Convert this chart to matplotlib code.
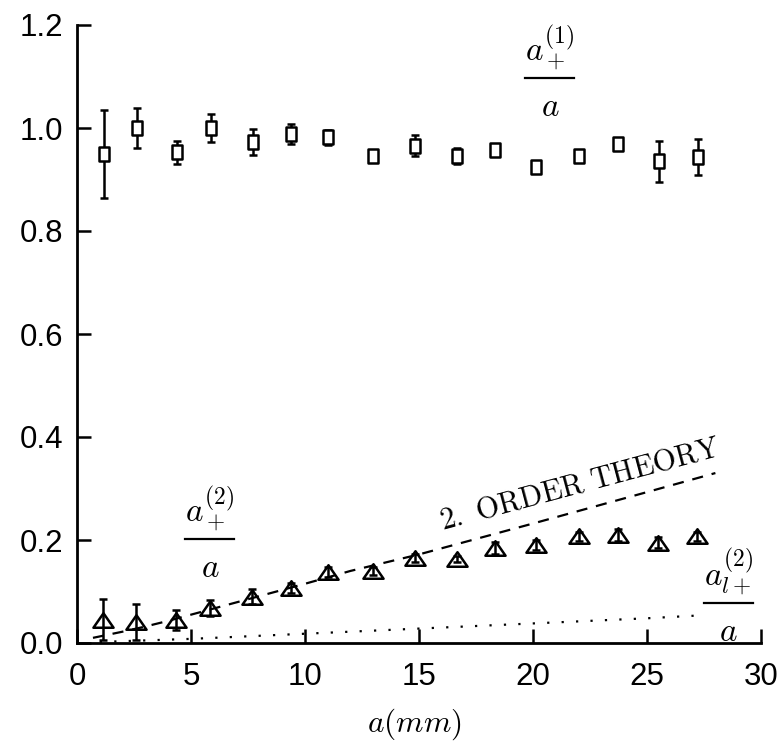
import matplotlib
matplotlib.use("Agg")
import matplotlib.pyplot as plt
import matplotlib.transforms as mtransforms
from matplotlib.lines import Line2D
from matplotlib.path import Path

plt.rcParams['mathtext.fontset'] = 'cm'
plt.rcParams['font.family'] = ['Liberation Sans', 'DejaVu Sans']

# first-order amplitude ratio (squares)
x_first = [1.20, 2.65, 4.38, 5.86, 7.70, 9.40, 11.02, 13.00, 14.84, 16.68, 18.33, 20.12, 22.02, 23.72, 25.52, 27.22]
y_first = [0.950, 1.000, 0.953, 1.000, 0.973, 0.988, 0.982, 0.945, 0.966, 0.946, 0.957, 0.925, 0.945, 0.968, 0.935, 0.943]
e_first = [0.085, 0.038, 0.022, 0.027, 0.025, 0.020, 0.015, 0.010, 0.020, 0.015, 0.012, 0.010, 0.010, 0.010, 0.040, 0.035]

# second-order amplitude ratio (triangles)
x_second = [1.15, 2.60, 4.35, 5.85, 7.68, 9.40, 11.02, 12.98, 14.82, 16.67, 18.33, 20.12, 22.00, 23.72, 25.50, 27.20]
y_second = [0.045, 0.040, 0.045, 0.068, 0.090, 0.107, 0.138, 0.140, 0.165, 0.163, 0.185, 0.190, 0.207, 0.210, 0.195, 0.207]
e_second = [0.040, 0.035, 0.020, 0.015, 0.015, 0.010, 0.010, 0.008, 0.008, 0.005, 0.012, 0.010, 0.008, 0.012, 0.010, 0.008]

# second-order theory curve (dashed)
x_theory = [0.7, 2.0, 3.0, 4.0, 5.0, 6.0, 8.0, 10.0, 12.0, 15.0, 20.0, 25.0, 28.0]
y_theory = [0.010, 0.022, 0.032, 0.043, 0.055, 0.067, 0.091, 0.115, 0.140, 0.172, 0.232, 0.293, 0.330]

# bound second-order component (dotted)
x_bound = [1.0, 5.0, 10.0, 15.0, 20.0, 25.0, 27.5]
y_bound = [0.002, 0.008, 0.018, 0.028, 0.038, 0.048, 0.054]

fig = plt.figure(figsize=(7.84, 7.49), dpi=100)
ax = fig.add_axes([77/784, 1 - 643/749, (761 - 77)/784, (643 - 25)/749])

# open markers: slightly tall square, wide flat triangle
sq_marker = Path([(-0.78, -1), (0.78, -1), (0.78, 1), (-0.78, 1), (-0.78, -1)],
                 [Path.MOVETO, Path.LINETO, Path.LINETO, Path.LINETO, Path.CLOSEPOLY])
tri_marker = Path([(-1, -0.72), (1, -0.72), (0, 0.72), (-1, -0.72)],
                  [Path.MOVETO, Path.LINETO, Path.LINETO, Path.CLOSEPOLY])

ax.errorbar(x_first, y_first, yerr=e_first, fmt='none', ecolor='black',
            elinewidth=1.8, capsize=3.2, capthick=1.8, zorder=3)
ax.plot(x_first, y_first, ls='none', marker=sq_marker, ms=9.5, mfc='white', mec='black',
        mew=1.8, zorder=4)
ax.errorbar(x_second, y_second, yerr=e_second, fmt='none', ecolor='black',
            elinewidth=1.8, capsize=3.2, capthick=1.8, zorder=3)
ax.plot(x_second, y_second, ls='none', marker=tri_marker, ms=14.5, mfc='none', mec='black',
        mew=1.8, zorder=4)
ax.plot(x_theory, y_theory, ls=(0, (5, 4)), color='black', lw=1.6, zorder=2)
ax.plot(x_bound, y_bound, ls=(0, (1, 5.5)), color='black', lw=1.6, zorder=2)

ax.set_xlim(0, 30)
ax.set_ylim(0, 1.2)
ax.set_xticks([0, 5, 10, 15, 20, 25, 30])
ax.set_yticks([0.0, 0.2, 0.4, 0.6, 0.8, 1.0, 1.2])
ax.set_yticklabels(['0.0', '0.2', '0.4', '0.6', '0.8', '1.0', '1.2'])
for s in ['top', 'right']:
    ax.spines[s].set_visible(False)
for s in ['left', 'bottom']:
    ax.spines[s].set_linewidth(2.0)
ax.tick_params(axis='both', direction='in', length=10, width=1.8, labelsize=22.5)
ax.tick_params(axis='y', pad=10)
ax.tick_params(axis='x', pad=14)

ax.set_xlabel(r'$a(mm)$', fontsize=22.5)
ax.xaxis.set_label_coords(0.493, -0.102)


def fraction(xc, ybar, num, den, fs=24, half_width=0.245):
    """Stacked fraction label: numerator, bar and denominator around a data point."""
    trans = fig.dpi_scale_trans + mtransforms.ScaledTranslation(xc, ybar, ax.transData)
    ax.add_artist(Line2D([-half_width, half_width], [0, 0], transform=trans,
                         color='black', lw=1.6))
    ax.annotate(num, (xc, ybar), xytext=(0, 4), textcoords='offset points',
                ha='center', va='bottom', fontsize=fs)
    ax.annotate(den, (xc, ybar), xytext=(0, -10), textcoords='offset points',
                ha='center', va='top', fontsize=fs)


fraction(20.74, 1.097, r'$a_+^{(1)}$', r'$a$')
fraction(5.83, 0.202, r'$a_+^{(2)}$', r'$a$')
fraction(28.57, 0.078, r'$a_{l+}^{(2)}$', r'$a$')

ax.text(22.05, 0.308, r'$\mathrm{2.\ ORDER\ THEORY}$', fontsize=21.5, ha='center', va='center',
        rotation=15, rotation_mode='anchor')

fig.savefig('out.png', dpi=100)
